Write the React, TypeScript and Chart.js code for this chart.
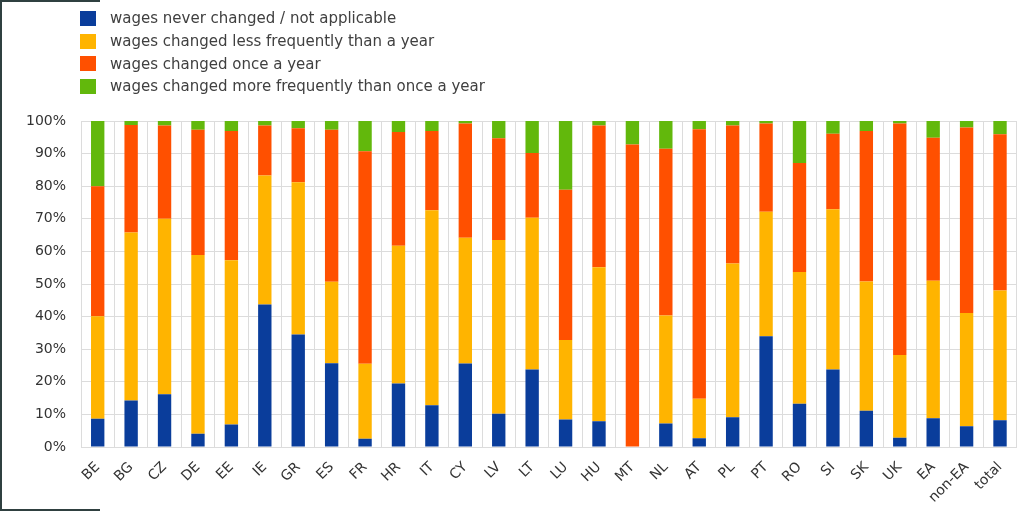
import React, { useEffect, useRef } from "react";
import { Chart, registerables } from "chart.js";

Chart.register(...registerables);

const categories = ["BE","BG","CZ","DE","EE","IE","GR","ES","FR","HR","IT","CY","LV","LT","LU","HU","MT","NL","AT","PL","PT","RO","SI","SK","UK","EA","non-EA","total"];

const seriesNames = [
  "wages never changed / not applicable",
  "wages changed less frequently than a year",
  "wages changed once a year",
  "wages changed more frequently than once a year",
];

const neverChanged = [8.7,14.3,16.2,4.1,6.9,43.7,34.5,25.7,2.5,19.5,12.8,25.6,10.2,23.8,8.4,7.9,0,7.2,2.7,9.1,34.0,13.3,23.8,11.1,2.8,8.8,6.4,8.2];
const lessThanYear = [31.4,51.5,53.8,54.8,50.4,39.6,46.7,25.0,23.0,42.2,59.8,38.6,53.3,46.5,24.4,47.2,0,33.1,12.1,47.2,38.2,40.4,49.1,39.7,25.4,42.2,34.7,39.8];
const onceAYear = [39.9,33.0,28.6,38.4,39.6,15.3,16.6,46.6,65.2,34.9,24.3,35.0,31.2,19.9,46.1,43.5,92.8,51.2,82.7,42.3,27.0,33.4,23.2,46.1,71.0,43.9,56.9,47.9];
const moreThanYear = [20.0,1.2,1.4,2.7,3.1,1.4,2.2,2.7,9.3,3.4,3.1,0.8,5.3,9.8,21.1,1.4,7.2,8.5,2.5,1.4,0.8,12.9,3.9,3.1,0.8,5.1,2.0,4.1];

const yTicks = [0,10,20,30,40,50,60,70,80,90,100];

const colors = ["#0a3d9b", "#ffb400", "#ff5000", "#62b80c"];
const FONT = "'DejaVu Sans', 'Liberation Sans', Arial, sans-serif";

export default function App() {
  const canvasRef = useRef<HTMLCanvasElement | null>(null);

  useEffect(() => {
    const canvas = canvasRef.current;
    if (!canvas) return;
    const values = [neverChanged, lessThanYear, onceAYear, moreThanYear];
    const chart = new Chart(canvas, {
      type: "bar",
      data: {
        labels: categories,
        datasets: seriesNames.map((name, i) => ({
          label: name,
          data: values[i],
          backgroundColor: colors[i],
          borderWidth: 0,
          barPercentage: 0.4,
          categoryPercentage: 1.0,
        })),
      },
      options: {
        animation: false,
        responsive: false,
        devicePixelRatio: 1,
        layout: { padding: { top: 121, right: 6, left: 0, bottom: 0 } },
        plugins: {
          legend: { display: false },
          tooltip: { enabled: false },
        },
        scales: {
          x: {
            stacked: true,
            grid: { color: "#dcdcdc", lineWidth: 1, drawTicks: false, offset: true },
            border: { color: "#dcdcdc" },
            ticks: {
              color: "#333333",
              font: { family: FONT, size: 14 },
              minRotation: 45,
              maxRotation: 45,
              padding: 12,
              autoSkip: false,
            },
            afterFit: (scale: any) => { scale.height = 64; },
          },
          y: {
            stacked: true,
            min: 0,
            max: 100,
            afterBuildTicks: (scale: any) => { scale.ticks = yTicks.map((v) => ({ value: v })); },
            grid: { color: "#dcdcdc", lineWidth: 1, drawTicks: false },
            border: { color: "#dcdcdc" },
            ticks: {
              color: "#333333",
              font: { family: FONT, size: 14 },
              padding: 15,
              callback: (v: any) => `${v}%`,
            },
            afterFit: (scale: any) => { scale.width = 81; },
          },
        },
      },
    });
    return () => chart.destroy();
  }, []);

  const frame = "#2f4040";
  return (
    <div style={{ position: "fixed", left: 0, top: 0, width: 1024, height: 511, background: "#ffffff", overflow: "hidden" }}>
      <canvas ref={canvasRef} width={1024} height={511} style={{ position: "absolute", left: 0, top: 0, width: 1024, height: 511 }} />
      <div style={{ position: "absolute", left: 0, top: 0, width: 100, height: 1.5, background: frame }} />
      <div style={{ position: "absolute", left: 0, top: 0, width: 2, height: 511, background: frame }} />
      <div style={{ position: "absolute", left: 0, top: 509, width: 100, height: 1.5, background: frame }} />
      <div style={{ position: "absolute", left: 80, top: 7, fontFamily: FONT, fontSize: 15, color: "#404040" }}>
        {seriesNames.map((name, i) => (
          <div key={name} style={{ display: "flex", alignItems: "center", height: 22.7 }}>
            <span style={{ display: "inline-block", width: 16, height: 15, background: colors[i], marginRight: 14 }} />
            <span style={{ whiteSpace: "nowrap", lineHeight: "22px" }}>{name}</span>
          </div>
        ))}
      </div>
    </div>
  );
}
